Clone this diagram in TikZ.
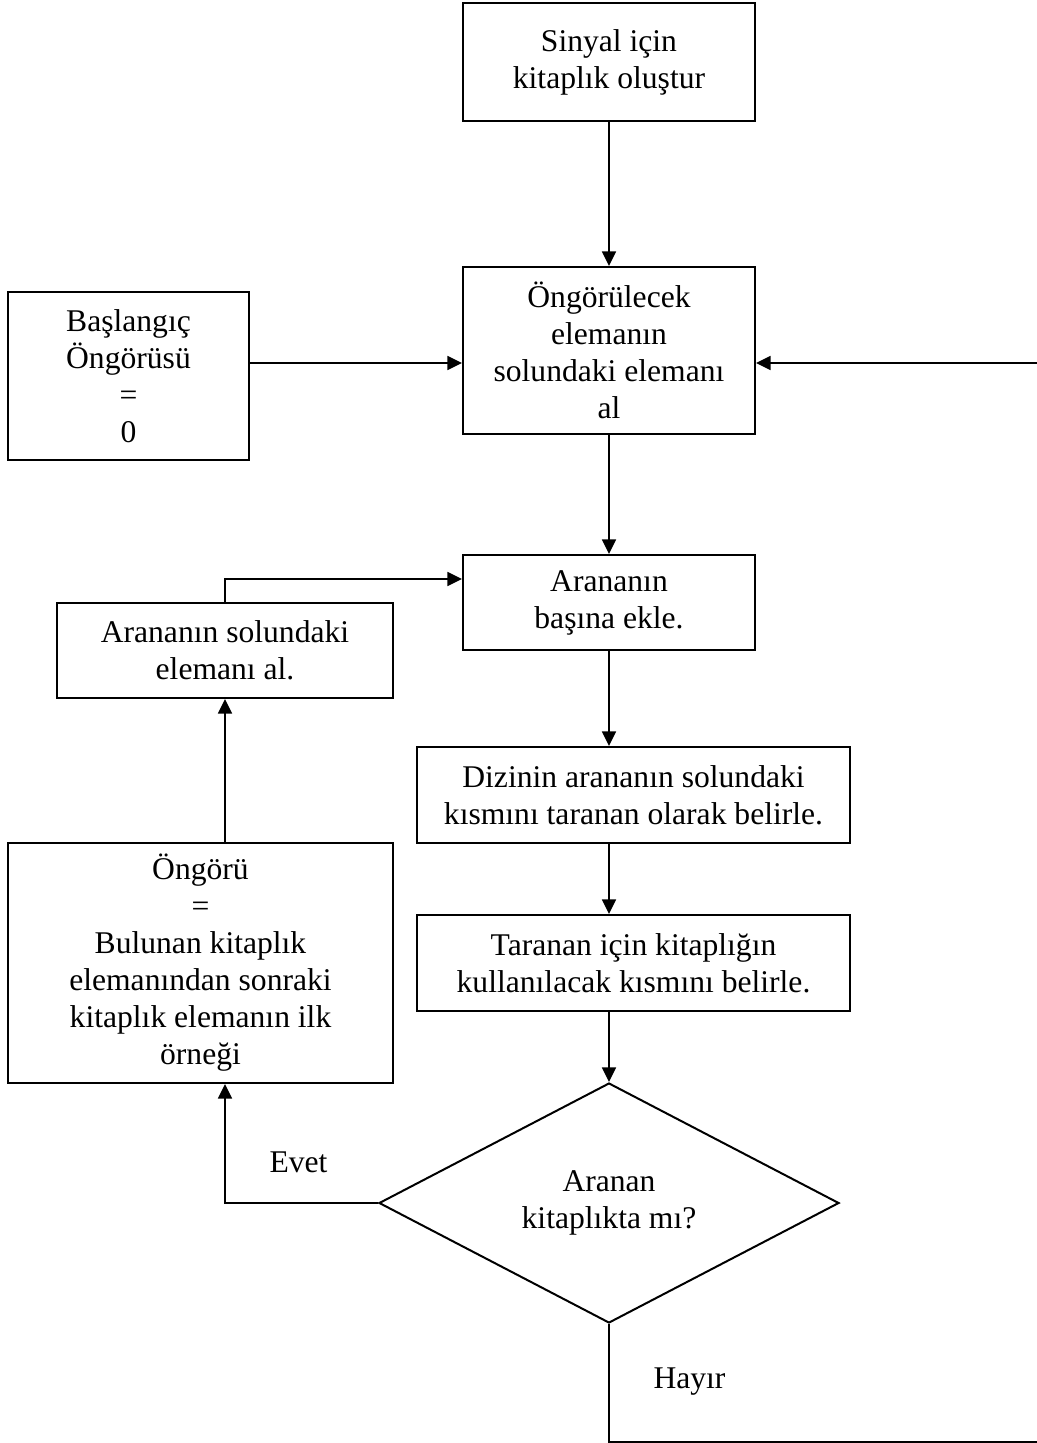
\documentclass[tikz,border=0pt]{standalone}
\usepackage{fontspec}
\setmainfont{Liberation Serif}
\usetikzlibrary{shapes.geometric,arrows.meta}
\begin{document}
\begin{tikzpicture}[x=0.75pt,y=-0.75pt,
  txt/.style={font=\fontsize{23.7pt}{27.75pt}\selectfont},
  box/.style={txt,draw,line width=1.5pt,align=center,inner sep=0pt,rectangle},
  decision/.style={txt,draw,line width=1.5pt,align=center,inner sep=0pt,diamond},
  arr/.style={line width=1.3pt,-{Triangle[length=11pt,width=10.5pt]}}]
\useasboundingbox (0,0) rectangle (1036,1443);

% process boxes
\node[box,minimum width=219pt,minimum height=88.5pt] (b1) at (609,62)
  {Sinyal için\\kitaplık oluştur};
\node[box,minimum width=219pt,minimum height=125.25pt] (b2) at (609,350.5)
  {Öngörülecek\\elemanın\\solundaki elemanı\\al};
\node[box,minimum width=180.75pt,minimum height=126pt] (b0) at (128.5,376)
  {Başlangıç\\Öngörüsü\\=\\0};
\node[box,minimum width=219pt,minimum height=71.25pt] (b3) at (609,602.5)
  {Arananın\\başına ekle.};
\node[box,minimum width=252pt,minimum height=71.25pt] (bl) at (225,650.5)
  {Arananın solundaki\\elemanı al.};
\node[box,minimum width=324.75pt,minimum height=72pt] (b4) at (633.5,795)
  {Dizinin arananın solundaki\\kısmını taranan olarak belirle.};
\node[box,minimum width=324.75pt,minimum height=72pt] (b5) at (633.5,963)
  {Taranan için kitaplığın\\kullanılacak kısmını belirle.};
\node[box,minimum width=288.75pt,minimum height=180pt] (bo) at (200.5,963)
  {Öngörü\\=\\Bulunan kitaplık\\elemanından sonraki\\kitaplık elemanın ilk\\örneği};

% decision
\node[decision,minimum width=345pt,minimum height=180pt] (dia) at (609,1203)
  {Aranan\\kitaplıkta mı?};

% branch labels
\node[txt,anchor=base,inner sep=0pt] (evet) at (298.5,1172) {Evet};
\node[txt,anchor=base,inner sep=0pt] (hayir) at (689.5,1388) {Hayır};

% helper points for routed connectors
\coordinate (c3) at (1037.5,363);
\coordinate (j1) at (225,579);
\coordinate (c1) at (609,1442);
\coordinate (c2) at (1037.5,1442);

% main flow
\draw[arr] (b1.south) -- (b2.north);
\draw[arr] (b0.east |- c3) -- (b2.west |- c3);
\draw[arr] (b2.south) -- (b3.north);
\draw[arr] (b3.south) -- (b3.south |- b4.north);
\draw[arr] (b3.south |- b4.south) -- (b3.south |- b5.north);
\draw[arr] (b3.south |- b5.south) -- (dia.north);

% yes branch
\draw[arr] (dia.west) -| (bl.south |- bo.south);
\draw[arr] (bl.south |- bo.north) -- (bl.south);
\draw[arr] (bl.north) -- (j1) -- (b3.west |- j1);

% no branch loops back
\draw[arr] (dia.south) -- (c1) -- (c2) -- (c3) -- (b2.east |- c3);
\end{tikzpicture}
\end{document}
